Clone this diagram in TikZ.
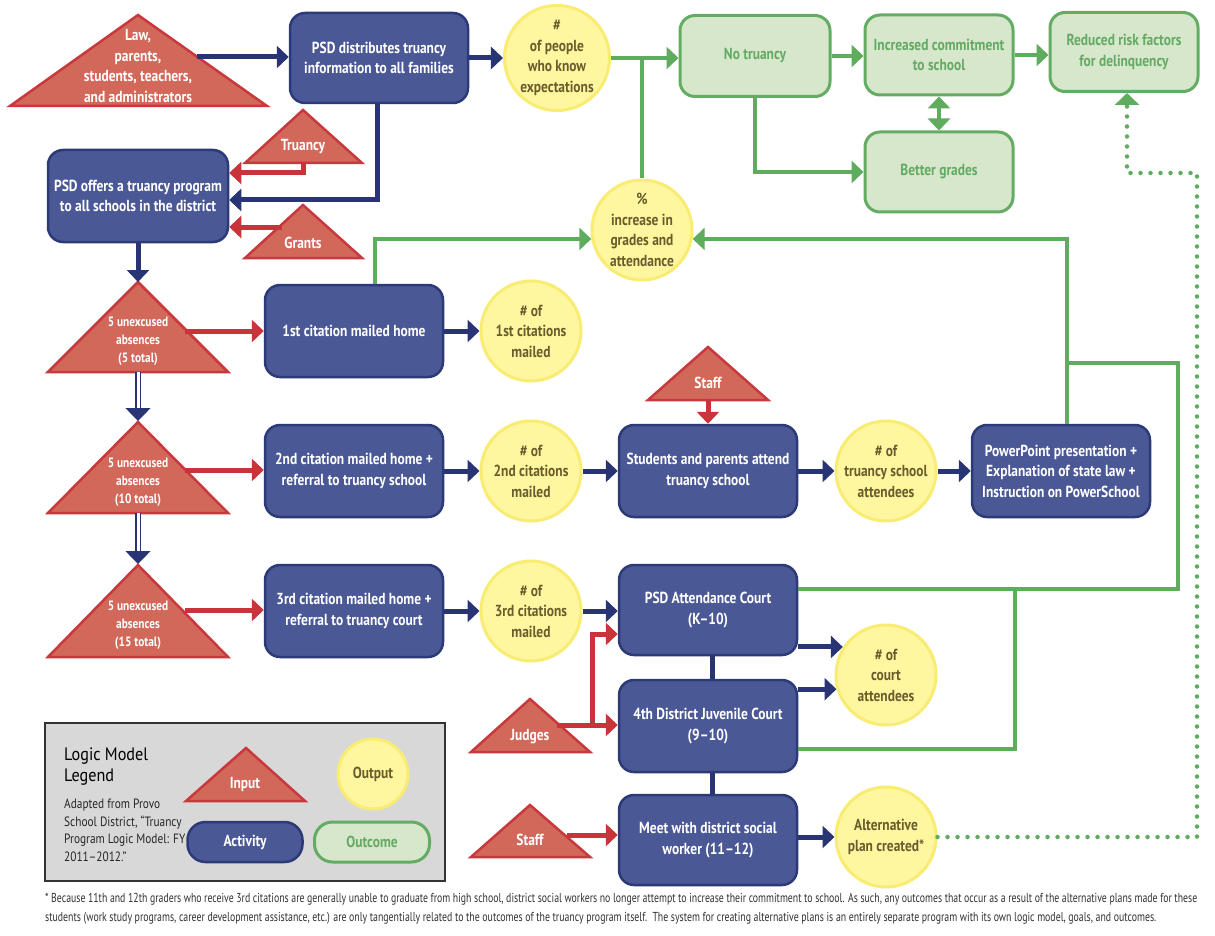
\documentclass[tikz,border=0pt]{standalone}
\usepackage{fontspec}
\setmainfont{PT Sans}[FakeStretch=0.84]
\newfontfamily\legfont{PT Sans}[FakeStretch=0.9]
\usetikzlibrary{arrows.meta}
\definecolor{inFill}{RGB}{209,104,90}
\definecolor{inLine}{RGB}{200,56,60}
\definecolor{redA}{RGB}{200,52,58}
\definecolor{actFill}{RGB}{75,88,150}
\definecolor{actLine}{RGB}{45,58,120}
\definecolor{navyA}{RGB}{40,52,115}
\definecolor{outFill}{RGB}{255,246,160}
\definecolor{outLine}{RGB}{248,236,115}
\definecolor{outText}{RGB}{105,92,45}
\definecolor{ocFill}{RGB}{214,231,203}
\definecolor{ocLine}{RGB}{100,172,100}
\definecolor{ocText}{RGB}{100,170,100}
\definecolor{greenL}{RGB}{95,172,95}
\definecolor{legFill}{RGB}{216,216,216}
\definecolor{fnText}{RGB}{50,50,50}
\tikzset{
  boxfont/.style={font=\bfseries\fontsize{16}{20.5}\selectfont},
  act/.style={draw=actLine, fill=actFill, line width=2.5pt, rounded corners=15pt,
    text=white, boxfont, align=center, inner sep=0pt},
  outc/.style={circle, draw=outLine, fill=outFill, line width=3pt, text=outText,
    boxfont, align=center, inner sep=0pt, minimum size=100pt},
  ocm/.style={draw=ocLine, fill=ocFill, line width=3pt, rounded corners=15pt,
    text=ocText, boxfont, align=center, inner sep=0pt},
  tri/.style={draw=inLine, fill=inFill, line width=2.5pt, line join=miter},
  tritext/.style={text=white, boxfont, align=center, inner sep=0pt},
  smalltri/.style={text=white, font=\bfseries\fontsize{13.5}{18}\selectfont, align=center, inner sep=0pt},
  navy/.style={draw=navyA, line width=5pt, -{Triangle[length=12pt,width=22pt]}},
  navyline/.style={draw=navyA, line width=5pt},
  redarr/.style={draw=redA, line width=5pt, -{Triangle[length=12pt,width=22pt]}},
  grnarr/.style={draw=greenL, line width=4.5pt, -{Triangle[length=12pt,width=22pt]}},
  grnboth/.style={draw=greenL, line width=4.5pt, {Triangle[length=12pt,width=22pt]}-{Triangle[length=12pt,width=22pt]}},
  grnline/.style={draw=greenL, line width=4.5pt},
  dotg/.style={draw=greenL, line width=4.5pt, line cap=round, dash pattern=on 0pt off 10pt, -{Triangle[length=12pt,width=24pt]}},
  dbl/.style={draw=navyA, line width=1.5pt, double=white, double distance=3pt, -{Triangle[length=13pt,width=25pt]}},
}
\begin{document}
\begin{tikzpicture}[x=1pt,y=-1pt]
\useasboundingbox[fill=white] (0,0) rectangle (1215,936);

% ---------- input triangles ----------
\filldraw[tri] (138,15) -- (10,106) -- (267,106) -- cycle;
\node[tritext] (lawt) at (138,66) {Law,\\parents,\\students, teachers,\\and administrators};
\coordinate (lawR) at (197,57);

\filldraw[tri] (303,110) -- (245,163) -- (362,163) -- cycle;
\node[tritext] (truT) at (303,147) {Truancy};
\coordinate (truB) at (303,162);

\filldraw[tri] (303,205) -- (245,258) -- (362,258) -- cycle;
\node[tritext] (graT) at (303,243) {Grants};
\coordinate (graL) at (282,227);

\filldraw[tri] (138,282) -- (48,372) -- (228,372) -- cycle;
\node[smalltri] (t1t) at (138,341) {5 unexcused\\absences\\(5 total)};
\coordinate (t1A) at (138,282); \coordinate (t1B) at (138,372); \coordinate (t1R) at (185,331);

\filldraw[tri] (138,422) -- (48,513) -- (228,513) -- cycle;
\node[smalltri] (t2t) at (138,482) {5 unexcused\\absences\\(10 total)};
\coordinate (t2A) at (138,421); \coordinate (t2B) at (138,513); \coordinate (t2R) at (185,470);

\filldraw[tri] (138,565) -- (48,657) -- (228,657) -- cycle;
\node[smalltri] (t3t) at (138,625) {5 unexcused\\absences\\(15 total)};
\coordinate (t3A) at (138,564); \coordinate (t3R) at (185,610);

\filldraw[tri] (708,347) -- (648,400) -- (768,400) -- cycle;
\node[tritext] (staffT) at (708,383) {Staff};
\coordinate (staffB) at (708,399);

\filldraw[tri] (530,699) -- (471,752) -- (590,752) -- cycle;
\node[tritext] (judT) at (530,737) {Judges};
\coordinate (judR) at (557,725);
\coordinate (judV) at (592,725);

\filldraw[tri] (530,805) -- (471,857) -- (590,857) -- cycle;
\node[tritext] (staff2T) at (530,840) {Staff};
\coordinate (staff2R) at (567,835);

% ---------- activities ----------
\node[act, minimum width=178pt, minimum height=90pt] (dist) at (379,58) {PSD distributes truancy\\information to all families};
\node[act, minimum width=180pt, minimum height=92pt] (offers) at (138,196) {PSD offers a truancy program\\to all schools in the district};
\node[act, minimum width=178pt, minimum height=92pt] (cit1) at (354,331) {1st citation mailed home};
\node[act, minimum width=178pt, minimum height=92pt] (cit2) at (354,471) {2nd citation mailed home +\\referral to truancy school};
\node[act, minimum width=178pt, minimum height=92pt] (cit3) at (354,611) {3rd citation mailed home +\\referral to truancy court};
\node[act, minimum width=178pt, minimum height=92pt] (attend) at (708,471) {Students and parents attend\\truancy school};
\node[act, minimum width=178pt, minimum height=92pt] (ppt) at (1061,471) {PowerPoint presentation +\\Explanation of state law +\\Instruction on PowerSchool};
\node[act, minimum width=178pt, minimum height=90pt] (court1) at (708,610) {PSD Attendance Court\\(K--10)};
\node[act, minimum width=178pt, minimum height=92pt] (court2) at (708,726) {4th District Juvenile Court\\(9--10)};
\node[act, minimum width=178pt, minimum height=90pt] (social) at (708,840) {Meet with district social\\worker (11--12)};

% ---------- outputs ----------
\node[outc] (know) at (557,58) {\#\\of people\\who know\\expectations};
\node[outc] (pct) at (642,230) {\%\\increase in\\grades and\\attendance};
\node[outc] (o1) at (531,331) {\# of\\1st citations\\mailed};
\node[outc] (o2) at (531,471) {\# of\\2nd citations\\mailed};
\node[outc] (o3) at (531,611) {\# of\\3rd citations\\mailed};
\node[outc] (oatt) at (886,471) {\# of\\truancy school\\attendees};
\node[outc] (ocourt) at (886,675) {\# of\\court\\attendees};
\node[outc] (oalt) at (886,837) {Alternative\\plan created*};

% ---------- outcomes ----------
\node[ocm, minimum width=150pt, minimum height=81pt] (notr) at (755,56) {No truancy};
\node[ocm, minimum width=148pt, minimum height=80pt] (incr) at (939,55) {Increased commitment\\to school};
\node[ocm, minimum width=148pt, minimum height=79pt] (redu) at (1124,52) {Reduced risk factors\\for delinquency};
\node[ocm, minimum width=148pt, minimum height=80pt] (better) at (939,172) {Better grades};

% ---------- connectors ----------
\draw[navy] (lawR) -- (dist.west |- lawR);
\draw[navy] (dist) -- (know);
\draw[grnarr] (know.east) -- (know.east -| notr.west);
\draw[grnline] (pct.north |- know.east) -- (pct.north);
\draw[grnarr] (notr.east) -- (notr.east -| incr.west);
\draw[grnarr] (incr.east) -- (incr.east -| redu.west);
\draw[grnboth] (incr.south) -- (better.north);
\draw[grnarr] (notr.south) |- (better.west);
\draw[grnarr] (cit1.north -| 375,0) |- (pct.190);
\draw[grnarr] (ppt.north -| 1067,0) |- (pct.350);
\draw[grnline] (court1.east |- 0,589) -- (1178,589) -- (1178,363) -- (1067,363);
\draw[grnline] (court2.east |- 0,749) -| (1015,589);

\draw[navy] (offers.south) -- (t1A);
\draw[navy] (dist.south -| 377,0) |- (offers.east |- 0,200);
\draw[redarr] (truB) |- (offers.east |- 0,173);
\draw[redarr] (graL) -- (offers.east |- graL);
\draw[redarr] (t1R) -- (cit1.west |- t1R);
\draw[redarr] (t2R) -- (cit2.west |- t2R);
\draw[redarr] (t3R) -- (cit3.west |- t3R);
\draw[dbl] (t1B) -- (t2A);
\draw[dbl] (t2B) -- (t3A);

\draw[navy] (cit1) -- (o1);
\draw[navy] (cit2) -- (o2);
\draw[navy] (cit3) -- (o3);
\draw[navy] (o2) -- (attend);
\draw[redarr] (staffB) -- (attend.north);
\draw[navy] (attend) -- (oatt);
\draw[navy] (oatt) -- (ppt);
\draw[navy] (o3.east) -- (o3.east -| court1.west);
\draw[navy] (court1.east |- ocourt.147) -- (ocourt.147);
\draw[navy] (court2.east |- ocourt.196) -- (ocourt.196);
\draw[navyline] (court1.south -| 712,0) -- (court2.north -| 712,0);
\draw[navyline] (court2.south -| 712,0) -- (social.north -| 712,0);
\draw[redarr] (judR) -- (court2.west |- judR);
\draw[redarr] (judV) |- (court1.west |- 0,634);
\draw[redarr] (staff2R) -- (social.west |- staff2R);
\draw[navy] (social.east |- oalt) -- (oalt.west);
\draw[dotg] (oalt.east) -- (1197,837) -- (1197,173) -- (1127,173) -- (redu.south -| 1127,0);

% ---------- legend ----------
\node[draw=black!80, fill=legFill, line width=1.5pt, minimum width=400pt, minimum height=158pt, inner sep=0pt] (legend) at (245,802) {};
\node[anchor=west, font=\legfont\fontsize{18}{21}\selectfont, align=left, inner sep=0pt] (legt) at (64,767) {Logic Model\\Legend};
\node[anchor=north west, font=\fontsize{13.5}{17.5}\selectfont, align=left, inner sep=0pt, text=black!85] (legsrc) at (64,799) {Adapted from Provo\\School District, “Truancy\\Program Logic Model: FY\\2011--2012.”};
\filldraw[tri] (246,748) -- (186,801) -- (305,801) -- cycle;
\node[tritext] (legin) at (245,784) {Input};
\node[outc, minimum size=70pt] (legout) at (373,774) {Output};
\node[act, minimum width=115pt, minimum height=40pt, rounded corners=18pt] (legact) at (245,842) {Activity};
\node[ocm, minimum width=115pt, minimum height=40pt, rounded corners=18pt] (legoc) at (372,842) {Outcome};

% ---------- footnote ----------
\node[anchor=west, inner sep=0pt, text=fnText, font=\fontsize{13}{16}\selectfont] (fn1) at (45,899) {\resizebox{1152pt}{\height}{* Because 11th and 12th graders who receive 3rd citations are generally unable to graduate from high school, district social workers no longer attempt to increase their commitment to school. As such, any outcomes that occur as a result of the alternative plans made for these}};
\node[anchor=west, inner sep=0pt, text=fnText, font=\fontsize{13}{16}\selectfont] (fn2) at (45,918) {\resizebox{1111pt}{\height}{students (work study programs, career development assistance, etc.) are only tangentially related to the outcomes of the truancy program itself.\ \ The system for creating alternative plans is an entirely separate program with its own logic model, goals, and outcomes.}};
\end{tikzpicture}
\end{document}
